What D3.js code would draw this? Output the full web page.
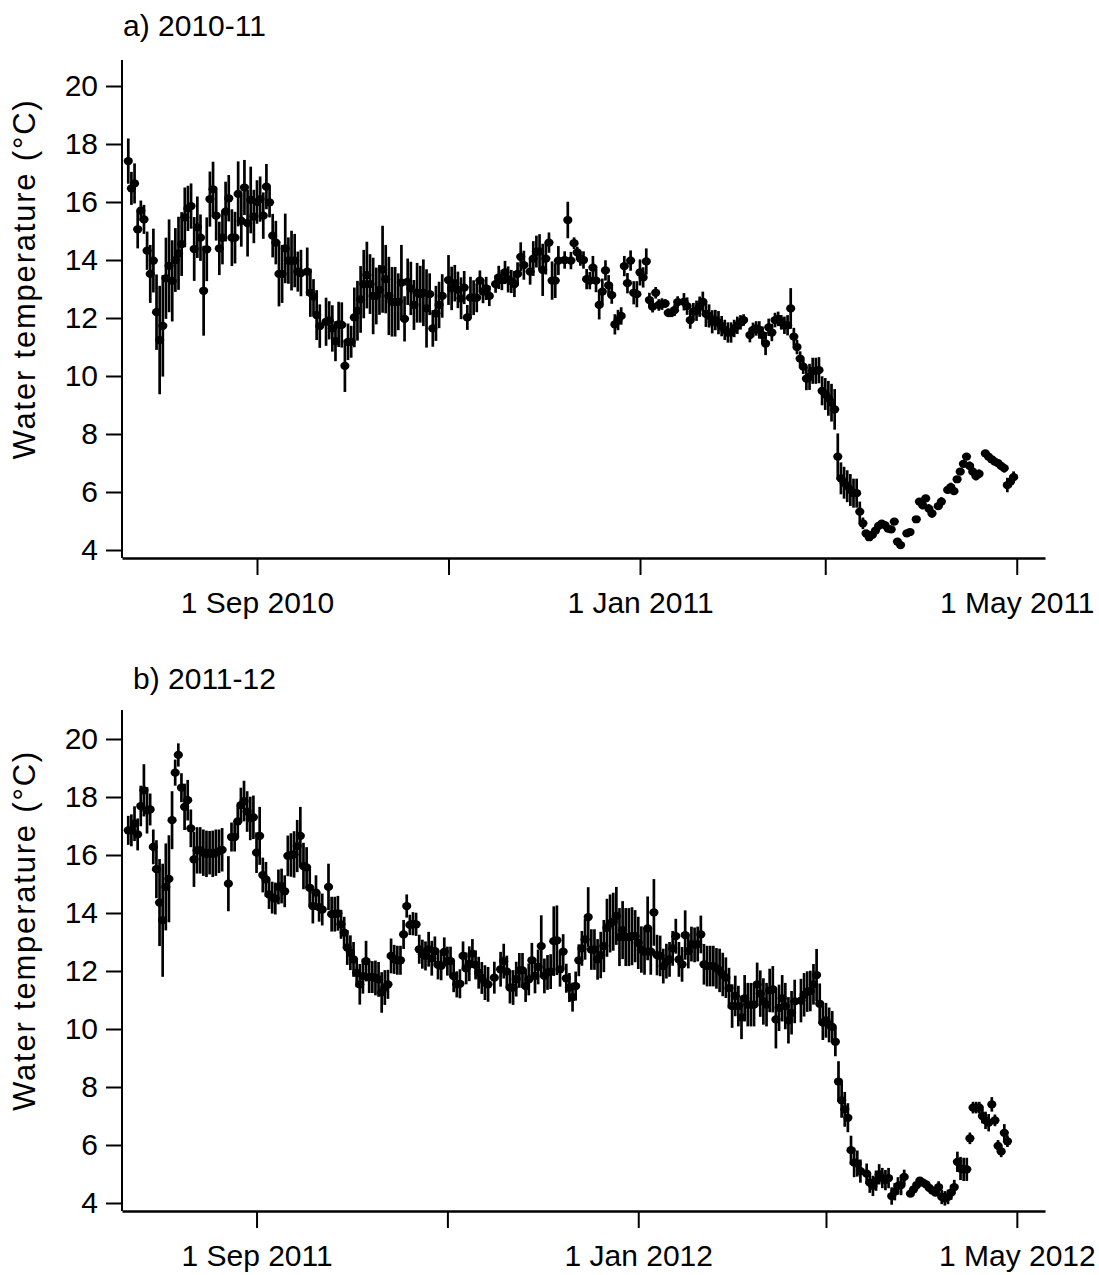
<!DOCTYPE html>
<html>
<head>
<meta charset="utf-8">
<script src="https://cdn.jsdelivr.net/npm/d3@7"></script>
<style>
  body { margin: 0; background: #fff; }
  svg text { font-family: "Liberation Sans", Arial, sans-serif; fill: #000; }
</style>
</head>
<body>
<svg id="chart" width="1099" height="1275"></svg>
<script>
// Daily mean water temperature (°C) with error half-widths, one value per day
// from the start date; null = no reading that day.
const aStart = "2010-07-22";
const bStart = "2011-07-22";

const aMean = [
  17.41, 16.47, 16.64, 15.06, 15.7, 15.4, 14.32, 13.52, 13.98, 12.2,
  11.24, 11.73, 13.37, 13.8, 13.28, 14.0, 14.23, 14.55, 15.47, 15.78,
  15.86, 14.38, 15.13, 14.77, 12.94, 14.37, 16.1, 16.44, 15.53, 14.4,
  14.77, 15.67, 16.13, 14.77, 14.77, 16.28, 15.35, 16.5, 15.27, 16.07,
  15.5, 16.0, 16.1, 15.53, 16.53, 15.99, 14.84, 14.6, 13.52, 13.52,
  14.4, 13.98, 13.98, 13.98, 13.6, 13.55, null, 13.6, 12.87, 12.74,
  12.1, 11.72, null, 11.87, 11.92, 11.64, 11.2, 11.78, 11.76, 10.35,
  11.18, 11.18, 12.02, 12.25, 12.64, 13.17, 13.48, 13.17, 12.76, 12.76,
  12.97, 13.68, 13.34, 12.76, 12.56, 12.56, 12.56, 13.22, 11.97, 13.25,
  13.02, 12.45, 12.87, 12.82, 12.87, 12.33, 12.82, 11.64, 12.16, 12.45,
  12.76, null, 13.31, 13.02, 13.2, 12.97, 12.68, 13.05, 12.02, 12.7,
  12.7, 12.7, 13.29, 12.91, 13.02, 12.76, null, 13.17, 13.4, 13.31,
  13.57, 13.33, 13.26, 13.17, 13.52, 14.11, 13.82, null, 13.6, 14.05,
  14.29, 14.29, 13.66, 14.05, 14.6, 13.29, 13.29, 13.98, null, 14.0,
  15.38, 13.98, 14.58, 14.26, 14.05, 14.0, 13.34, 13.29, 13.74, 13.29,
  12.45, 12.91, 13.64, 13.13, 12.79, 11.78, 11.93, 12.07, 13.79, 13.2,
  13.98, 12.87, 12.82, 13.57, 13.4, 13.95, 12.62, 12.39, 12.87, 12.45,
  12.48, 12.5, 12.18, 12.18, 12.27, 12.55, null, 12.56, 12.41, 11.93,
  12.22, 12.25, 12.39, 12.56, 12.14, 12.07, 11.87, 11.93, 11.84, 11.72,
  11.59, 11.5, 11.5, 11.64, 11.75, 11.85, 11.93, null, 11.41, 11.59,
  11.64, 11.59, 11.41, 11.12, 11.68, 11.5, 11.93, 11.97, 11.85, 11.75,
  11.75, 12.33, 11.36, 11.0, 10.6, 10.32, 9.91, 9.97, 10.18, 10.18,
  10.2, 9.49, 9.38, 9.23, 9.08, 8.85, 7.22, 6.47, 6.32, 6.2,
  6.07, 5.96, 5.96, 5.32, 4.92, 4.57, 4.44, 4.52, 4.67, 4.83,
  4.91, 4.86, 4.74, 4.71, 4.98, 4.29, 4.17, null, 4.57, 4.62,
  null, 5.06, 5.67, 5.55, 5.78, 5.43, 5.26, null, 5.51, 5.67,
  null, 6.07, 6.17, 6.03, 6.44, 6.7, 6.97, 7.22, 6.9, 6.7,
  6.55, 6.63, null, 7.33, 7.22, 7.13, 7.05, 7.0, 6.9, 6.82,
  6.24, 6.36, 6.51
];
const aErr = [
  0.78, 0.57, 0.69, 0.66, 0.35, 0.5, 0.66, 1.0, 1.1, 1.3,
  1.87, 1.75, 1.4, 1.6, 1.4, 1.1, 1.26, 1.1, 1.03, 0.78,
  0.78, 1.1, 1.06, 0.8, 1.55, 1.1, 0.95, 0.95, 0.86, 0.92,
  0.92, 1.03, 0.8, 0.98, 0.89, 1.12, 0.89, 0.95, 1.15, 1.15,
  0.92, 0.75, 0.78, 0.8, 0.78, 0.52, 0.75, 0.75, 1.12, 1.0,
  1.2, 0.8, 1.03, 0.92, 0.69, 0.8, null, 0.83, 0.83, 0.6,
  0.86, 0.75, null, 0.83, 0.66, 0.8, 0.69, 0.78, 0.78, 0.9,
  0.63, 0.55, 1.03, 1.03, 1.15, 1.18, 1.15, 1.03, 1.32, 0.98,
  0.86, 1.5, 1.18, 1.35, 1.2, 1.2, 0.98, 1.3, 0.78, 0.8,
  0.92, 0.86, 1.03, 0.98, 1.15, 1.35, 0.72, 0.63, 0.95, 0.8,
  0.75, null, 0.86, 0.75, 0.63, 0.63, 0.72, 0.57, 0.43, 0.72,
  0.6, 0.5, 0.35, 0.4, 0.4, 0.35, null, 0.3, 0.4, 0.35,
  0.4, 0.45, 0.4, 0.45, 0.4, 0.5, 0.5, null, 0.45, 0.6,
  0.55, 0.6, 0.9, 0.55, 0.35, 0.66, 0.6, 0.5, null, 0.3,
  0.63, 0.3, 0.2, 0.2, 0.25, 0.3, 0.35, 0.3, 0.4, 0.4,
  0.5, 0.45, 0.35, 0.35, 0.3, 0.35, 0.35, 0.3, 0.35, 0.35,
  0.35, 0.4, 0.45, 0.45, 0.35, 0.45, 0.25, 0.2, 0.2, 0.2,
  0.2, 0.15, 0.15, 0.15, 0.2, 0.2, null, 0.3, 0.3, 0.3,
  0.3, 0.35, 0.35, 0.35, 0.45, 0.4, 0.4, 0.35, 0.4, 0.35,
  0.35, 0.35, 0.35, 0.3, 0.3, 0.25, 0.2, null, 0.25, 0.25,
  0.25, 0.3, 0.3, 0.4, 0.3, 0.3, 0.25, 0.25, 0.25, 0.3,
  0.35, 0.7, 0.3, 0.25, 0.25, 0.25, 0.4, 0.45, 0.45, 0.45,
  0.45, 0.5, 0.55, 0.6, 0.65, 0.7, 0.8, 0.55, 0.55, 0.55,
  0.55, 0.5, 0.5, 0.35, 0.2, 0.1, 0.1, 0.08, 0.1, 0.1,
  0.1, 0.08, 0.1, 0.1, 0.1, 0.1, 0.1, null, 0.1, 0.1,
  null, 0.1, 0.12, 0.15, 0.12, 0.15, 0.15, null, 0.12, 0.15,
  null, 0.12, 0.15, 0.12, 0.1, 0.1, 0.1, 0.1, 0.15, 0.15,
  0.15, 0.15, null, 0.12, 0.1, 0.1, 0.1, 0.12, 0.12, 0.15,
  0.25, 0.2, 0.2
];

const bMean = [
  16.85, 16.85, 17.08, 16.71, 17.69, 18.23, 17.54, 17.57, 16.28, 15.51,
  14.36, 13.75, 14.9, 15.18, 17.2, 18.84, 19.45, 18.32, 17.66, 17.89,
  16.92, 15.85, 16.16, 16.16, 16.08, 16.04, 16.08, 16.04, 16.08, 16.13,
  16.18, null, 15.01, 16.62, 16.62, 17.16, 17.72, 17.86, 17.5, 17.26,
  17.3, 16.08, 16.66, 15.31, 15.16, 14.64, 14.53, 14.5, 14.9, 14.93,
  14.75, 15.97, 16.0, 16.02, 16.31, 16.66, 15.62, 15.57, 14.87, 14.24,
  14.7, 14.2, 14.12, null, 14.9, 13.96, 13.96, 13.99, 13.61, 13.32,
  12.81, 12.63, 12.4, 11.94, 11.54, 11.82, 12.34, 11.79, 11.79, 11.76,
  11.71, 11.26, 11.43, 11.54, 12.52, 12.4, 12.37, 12.37, 13.26, 14.24,
  13.59, 13.63, 13.61, 12.75, 12.58, 12.52, 12.75, 12.44, 12.69, 12.21,
  12.18, 12.66, 12.34, 12.34, 11.82, 11.54, 11.56, 12.52, 12.09, 12.25,
  12.6, 12.21, 11.94, 11.76, 11.6, 11.54, null, 11.77, null, 12.06,
  12.34, 11.98, 11.43, 11.43, 11.72, 12.02, 12.02, 11.48, 11.71, 12.37,
  11.83, 12.14, 12.86, 11.83, 11.95, 11.98, 13.03, 13.06, 12.06, 12.67,
  11.75, 11.43, 11.1, 11.48, 12.37, 12.78, 13.09, 13.86, 12.74, 12.74,
  12.4, 12.55, 12.86, 13.49, 13.64, 13.7, 13.9, 13.17, 13.41, 13.17,
  13.17, 13.2, 13.2, 12.97, 12.74, 12.67, 13.47, 12.67, 14.02, 12.55,
  12.52, 12.17, 12.34, 12.4, 12.78, 13.2, 12.4, 12.23, 13.24, 12.69,
  12.93, 12.9, 12.93, 13.26, 12.23, 12.17, 12.17, 12.17, 12.09, 12.02,
  11.88, 11.77, 11.41, 10.79, 11.14, 10.79, 10.4, 11.06, 10.84, 10.84,
  10.84, 11.54, 11.22, 10.95, 10.84, 11.33, 11.37, 10.33, 10.73, 11.06,
  10.79, 10.3, 10.56, 10.95, null, 10.98, 11.18, 11.29, 11.31, 11.54,
  11.86, 10.87, 10.22, 10.3, 10.14, 10.07, 9.56, 8.19, 7.54, 7.23,
  6.94, 5.82, 5.39, 5.36, 5.1, null, 5.01, 4.7, 4.59, 4.77,
  4.99, 4.86, 4.79, 4.86, 4.24, 4.39, 4.59, 4.62, 4.9, null,
  4.32, 4.47, 4.62, 4.77, 4.7, 4.64, 4.52, 4.43, 4.36, 4.55,
  4.21, 4.16, 4.21, 4.36, 4.55, 5.42, 5.19, 5.16, 5.16, 6.23,
  7.29, 7.29, 7.29, 7.0, 6.85, 6.77, 7.4, 6.85, 5.97, 5.78,
  6.42, 6.13
];
const bErr = [
  0.5, 0.55, 0.6, 0.55, 0.7, 0.9, 0.8, 0.55, 0.6, 1.0,
  1.5, 1.95, 1.5, 1.5, 1.0, 0.45, 0.4, 0.5, 0.8, 0.7,
  0.65, 0.95, 0.8, 0.8, 0.8, 0.8, 0.75, 0.8, 0.8, 0.75,
  0.75, null, 0.95, 0.5, 0.5, 0.55, 0.6, 0.7, 0.7, 0.75,
  0.75, 0.7, 1.0, 0.6, 0.6, 0.5, 0.55, 0.55, 0.6, 0.6,
  0.55, 0.7, 0.75, 0.8, 0.9, 1.0, 0.8, 0.7, 0.65, 0.6,
  0.6, 0.5, 0.55, null, 0.8, 0.6, 0.6, 0.6, 0.5, 0.55,
  0.6, 0.6, 0.6, 0.5, 0.7, 0.6, 0.7, 0.55, 0.55, 0.6,
  0.6, 0.7, 0.6, 0.5, 0.6, 0.5, 0.5, 0.5, 0.5, 0.4,
  0.35, 0.4, 0.4, 0.5, 0.5, 0.5, 0.6, 0.6, 0.5, 0.5,
  0.5, 0.5, 0.5, 0.5, 0.55, 0.45, 0.5, 0.5, 0.55, 0.6,
  0.5, 0.5, 0.55, 0.55, 0.6, 0.6, null, 0.55, null, 0.6,
  0.6, 0.55, 0.55, 0.6, 0.6, 0.6, 0.6, 0.55, 0.55, 0.6,
  0.6, 0.6, 1.06, 0.6, 0.6, 0.6, 1.2, 1.2, 0.6, 0.6,
  0.5, 0.5, 0.5, 0.5, 0.55, 0.6, 0.7, 1.03, 0.7, 0.7,
  0.7, 0.8, 0.9, 1.0, 1.0, 1.0, 1.0, 1.0, 1.0, 1.0,
  1.0, 1.0, 0.9, 0.9, 0.8, 0.8, 1.1, 0.8, 1.15, 0.7,
  0.7, 0.6, 0.6, 0.6, 0.6, 0.6, 0.6, 0.6, 0.85, 0.6,
  0.6, 0.6, 0.6, 0.65, 0.7, 0.7, 0.7, 0.7, 0.7, 0.75,
  0.75, 0.7, 0.7, 0.75, 0.7, 0.7, 0.75, 0.8, 0.75, 0.75,
  0.75, 0.75, 0.8, 0.8, 0.75, 0.75, 0.8, 1.0, 0.8, 0.8,
  0.8, 0.8, 0.75, 0.75, null, 0.75, 0.75, 0.7, 0.7, 0.7,
  0.9, 0.7, 0.6, 0.6, 0.6, 0.55, 0.5, 0.7, 0.6, 0.6,
  0.5, 0.5, 0.5, 0.45, 0.4, null, 0.35, 0.35, 0.35, 0.35,
  0.35, 0.35, 0.35, 0.35, 0.3, 0.3, 0.3, 0.35, 0.25, null,
  0.05, 0.05, 0.05, 0.05, 0.05, 0.05, 0.05, 0.05, 0.05, 0.2,
  0.25, 0.25, 0.25, 0.25, 0.25, 0.35, 0.4, 0.4, 0.4, 0.2,
  0.2, 0.2, 0.2, 0.25, 0.3, 0.3, 0.25, 0.2, 0.2, 0.2,
  0.3, 0.2
];

const yTicks = [4, 6, 8, 10, 12, 14, 16, 18, 20];
const aTickDates = ["2010-09-01", "2010-11-01", "2011-01-01", "2011-03-01", "2011-05-01"];
const bTickDates = ["2011-09-01", "2011-11-01", "2012-01-01", "2012-03-01", "2012-05-01"];
const labelledMonths = [8, 0, 4]; // Sep, Jan, May get a label

const FONT = 30;
const X0 = 122, X1 = 1045;

const panels = [
  { title: "a) 2010-11", titleX: 123, titleY: 36, start: aStart, mean: aMean, err: aErr,
    domain: ["2010-07-20", "2011-05-10"], ticks: aTickDates, axisY: 558, top: 60 },
  { title: "b) 2011-12", titleX: 133, titleY: 689, start: bStart, mean: bMean, err: bErr,
    domain: ["2011-07-20", "2012-05-10"], ticks: bTickDates, axisY: 1211, top: 710 }
];

const svg = d3.select("#chart");
const parse = d3.utcParse("%Y-%m-%d");
const fmt = d3.utcFormat("%-d %b %Y");

for (const p of panels) {
  const g = svg.append("g");
  const x = d3.scaleUtc().domain(p.domain.map(parse)).range([X0, X1]);
  // 4 °C sits 8-9 px above the x axis, 29 px per degree
  const y = d3.scaleLinear().domain([4, 20]).range([p.axisY - 8, p.axisY - 8 - 16 * 29]);

  const t0 = parse(p.start);
  const pts = [];
  p.mean.forEach((m, i) => {
    if (m == null) return;
    pts.push({ date: d3.utcDay.offset(t0, i), m, e: p.err[i] || 0 });
  });

  // error bars
  g.append("g")
    .selectAll("line")
    .data(pts)
    .join("line")
    .attr("x1", (d) => x(d.date))
    .attr("x2", (d) => x(d.date))
    .attr("y1", (d) => y(d.m - d.e))
    .attr("y2", (d) => y(d.m + d.e))
    .attr("stroke", "#000")
    .attr("stroke-width", 2.7);

  // means
  g.append("g")
    .selectAll("ellipse")
    .data(pts)
    .join("ellipse")
    .attr("cx", (d) => x(d.date))
    .attr("cy", (d) => y(d.m))
    .attr("rx", 4.6)
    .attr("ry", 4.1)
    .attr("fill", "#000");

  // y axis
  const ya = g.append("g")
    .attr("transform", `translate(${X0},0)`)
    .call(d3.axisLeft(y).tickValues(yTicks).tickSize(16).tickPadding(8).tickSizeOuter(0));
  ya.select(".domain").remove();
  ya.selectAll(".tick line").attr("stroke", "#000").attr("stroke-width", 2);
  ya.selectAll(".tick text").attr("font-size", FONT).attr("font-family", null);
  g.append("line")
    .attr("x1", X0).attr("x2", X0)
    .attr("y1", p.top).attr("y2", p.axisY)
    .attr("stroke", "#000").attr("stroke-width", 2);

  // x axis
  const xa = g.append("g")
    .attr("transform", `translate(0,${p.axisY})`)
    .call(d3.axisBottom(x)
      .tickValues(p.ticks.map(parse))
      .tickSize(17)
      .tickPadding(17)
      .tickSizeOuter(0)
      .tickFormat((d) => labelledMonths.includes(d.getUTCMonth()) ? fmt(d) : ""));
  xa.select(".domain").attr("stroke", "#000").attr("stroke-width", 2.5);
  xa.selectAll(".tick line").attr("stroke", "#000").attr("stroke-width", 2);
  xa.selectAll(".tick text").attr("font-size", FONT).attr("font-family", null);

  // y label
  const mid = (p.top + p.axisY) / 2 - 30;
  g.append("text")
    .attr("transform", `translate(35,${mid}) rotate(-90)`)
    .attr("text-anchor", "middle")
    .attr("font-size", 31)
    .attr("letter-spacing", 1.8)
    .text("Water temperature (°C)");

  // panel title
  g.append("text")
    .attr("x", p.titleX)
    .attr("y", p.titleY)
    .attr("font-size", FONT)
    .text(p.title);
}
</script>
</body>
</html>
